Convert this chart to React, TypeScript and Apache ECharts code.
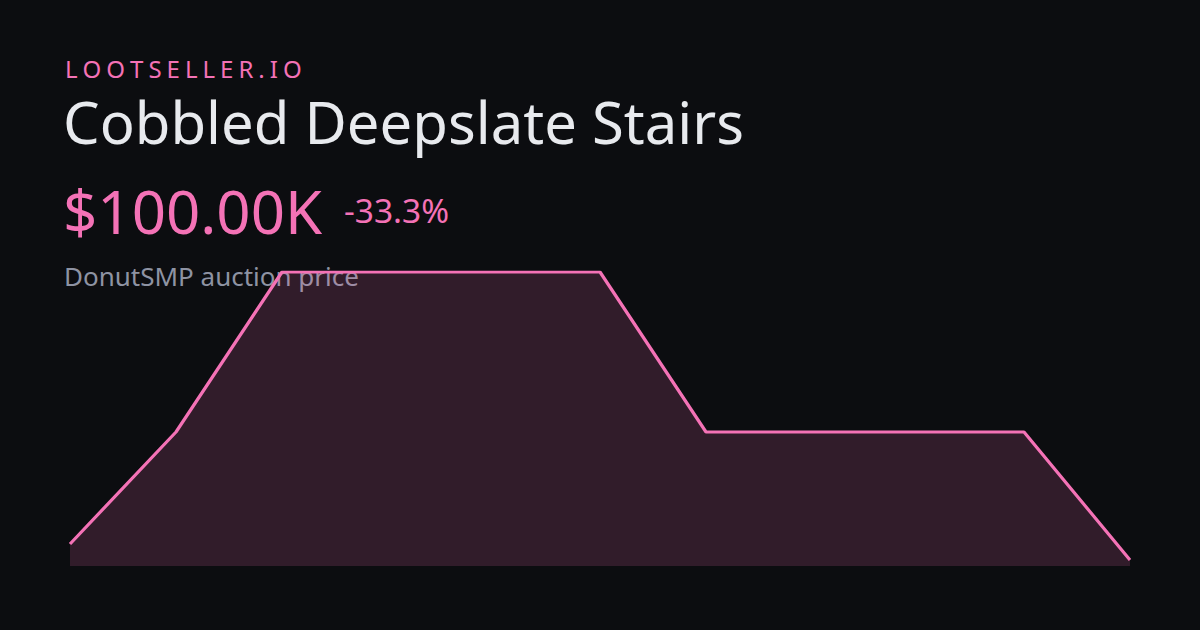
import React, { useEffect, useRef } from "react";
import * as echarts from "echarts";

const categories: string[] = ["1", "2", "3", "4", "5", "6", "7", "8", "9", "10", "11"];
const prices: number[] = [106.25, 150, 212.5, 212.5, 212.5, 212.5, 150, 150, 150, 150, 100];

const BRAND = "LOOTSELLER.IO";
const TITLE = "Cobbled Deepslate Stairs";
const PRICE = "$100.00K";
const CHANGE = "-33.3%";
const SUBTITLE = "DonutSMP auction price";

const PINK = "#f472b6";
const FONT = "Noto Sans";

function spacedText(text: string, x: number, y: number, size: number, spacing: number, color: string) {
  const canvas = document.createElement("canvas");
  const ctx = canvas.getContext("2d")!;
  ctx.font = `${size}px "${FONT}"`;
  const els: any[] = [];
  let cx = x;
  for (const ch of text) {
    els.push({
      type: "text",
      x: cx,
      y,
      z: 1,
      style: { text: ch, fill: color, font: `${size}px "${FONT}"`, verticalAlign: "middle", align: "left" },
    });
    cx += ctx.measureText(ch).width + spacing;
  }
  return els;
}

export default function App() {
  const ref = useRef<HTMLDivElement>(null);
  useEffect(() => {
    if (!ref.current) return;
    const chart = echarts.init(ref.current, null, { renderer: "svg" });
    const txt = (text: string, x: number, y: number, size: number, color: string) => ({
      type: "text",
      x,
      y,
      z: 1,
      style: { text, fill: color, font: `${size}px "${FONT}"`, verticalAlign: "middle", align: "left" },
    });
    chart.setOption({
      animation: false,
      backgroundColor: "#0c0d10",
      grid: { left: 70, right: 70, top: 272, bottom: 64 },
      xAxis: { type: "category", data: categories, boundaryGap: false, show: false },
      yAxis: { type: "value", min: 97.65625, max: 212.5, show: false },
      graphic: [
        ...spacedText(BRAND, 65, 68, 24, 5, PINK),
        txt(TITLE, 63, 121, 58, "#e8eaee"),
        txt(PRICE, 63, 211, 60, PINK),
        txt(CHANGE, 344, 210, 33.5, PINK),
        txt(SUBTITLE, 64, 276, 26, "#8e93a3"),
      ],
      series: [
        {
          type: "line",
          data: prices,
          z: 3,
          symbol: "none",
          lineStyle: { color: PINK, width: 3.2 },
          areaStyle: { color: "rgba(240,110,180,0.16)", opacity: 1, origin: "start" },
        },
      ],
    });
    return () => chart.dispose();
  }, []);
  return <div ref={ref} style={{ width: 1200, height: 630, position: "absolute", left: 0, top: 0 }} />;
}
